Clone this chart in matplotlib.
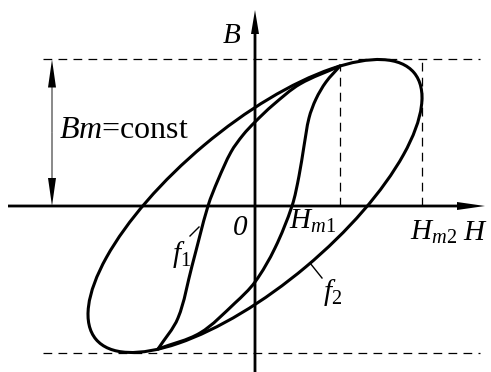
import numpy as np
import matplotlib
matplotlib.use("Agg")
from matplotlib import pyplot as plt
from matplotlib.path import Path
from matplotlib.patches import PathPatch, Ellipse

plt.rcParams['font.family'] = ['Liberation Serif', 'DejaVu Serif']
plt.rcParams['mathtext.fontset'] = 'custom'
plt.rcParams['mathtext.rm'] = 'Liberation Serif'
plt.rcParams['mathtext.it'] = 'Liberation Serif:italic'

# outer loop f2 (pixel-like units, origin at axis cross)
Hm2 = 167.0          # max H of loop f2
Bm = 146.5           # max B (same for both loops)
cos_delta = 0.74     # phase lag of B behind H for loop f2

# inner loop f1, read as points along each branch (H, B)
f1_down = [(85, 140), (71, 124), (61, 107), (54, 88), (49, 60), (44, 30),
           (37, 0), (20, -42), (0, -76), (-20, -97), (-55, -127), (-97, -143)]
f1_up = [(-97, -143), (-77, -112), (-63, -60), (-47, 0), (-37, 26),
         (-24, 54), (-12, 71), (0, 84), (18, 101), (45, 122), (85, 140)]
Hm1 = 85.0

curve_lw = 2.2


def smooth_path(pts):
    # smooth curve through the read points, given to matplotlib as bezier segments
    p = np.asarray(pts, float)
    d = np.hypot(*np.diff(p, axis=0).T)
    m = np.zeros_like(p)
    m[0] = (p[1] - p[0]) / d[0]
    m[-1] = (p[-1] - p[-2]) / d[-1]
    m[1:-1] = (p[2:] - p[:-2]) / (d[1:] + d[:-1])[:, None]
    verts = [p[0]]
    codes = [Path.MOVETO]
    for i in range(len(p) - 1):
        verts += [p[i] + m[i] * d[i] / 3, p[i + 1] - m[i + 1] * d[i] / 3, p[i + 1]]
        codes += [Path.CURVE4] * 3
    return Path(verts, codes)


fig = plt.figure(figsize=(4.91, 3.72), dpi=100)
ax = fig.add_axes([0, 0, 1, 1])
ax.set_xlim(-255, 236)
ax.set_ylim(-166, 206)
ax.axis('off')

# dashed guide lines
dash = dict(color='k', lw=0.9, linestyle=(0, (7, 5)))
ax.plot([-212, 225], [Bm, Bm], **dash)
ax.plot([-212, 225], [-Bm, -Bm], **dash)
ax.plot([Hm1, Hm1], [0, 140], **dash)
ax.plot([Hm2, Hm2], [0, Bm], **dash)

# axes with arrows
ax.arrow(-247, 0, 477, 0, width=2.8, head_width=8, head_length=28,
         length_includes_head=True, color='k', lw=0)
ax.arrow(0, -166, 0, 362, width=2.8, head_width=8, head_length=24,
         length_includes_head=True, color='k', lw=0)

# Bm double arrow
ax.arrow(-203, Bm / 2, 0, Bm / 2, width=0.9, head_width=8, head_length=28,
         length_includes_head=True, color='k', lw=0)
ax.arrow(-203, Bm / 2, 0, -Bm / 2, width=0.9, head_width=8, head_length=28,
         length_includes_head=True, color='k', lw=0)

# outer loop f2 as an ellipse H = Hm2 cos t, B = Bm cos(t - delta)
sin2 = 1 - cos_delta ** 2
M = np.array([[1 / Hm2 ** 2, -cos_delta / (Hm2 * Bm)],
              [-cos_delta / (Hm2 * Bm), 1 / Bm ** 2]]) / sin2
vals, vecs = np.linalg.eigh(M)
major = 1 / np.sqrt(vals[0])
minor = 1 / np.sqrt(vals[1])
angle = np.degrees(np.arctan2(vecs[1, 0], vecs[0, 0]))
ax.add_patch(Ellipse((0, 0), 2 * major, 2 * minor, angle=angle,
                     fill=False, lw=curve_lw, color='k'))

# inner loop f1
ax.add_patch(PathPatch(smooth_path(f1_down), fill=False, lw=curve_lw, color='k',
                       capstyle='round'))
ax.add_patch(PathPatch(smooth_path(f1_up), fill=False, lw=curve_lw, color='k',
                       capstyle='round'))

# leaders
ax.plot([-65, -56], [-30, -21], color='k', lw=1.0)
ax.plot([55, 67], [-57, -72], color='k', lw=1.0)

# labels
fs = 21
ax.text(-23, 163, r'$B$', fontsize=fs, ha='center', va='baseline')
ax.text(-196, 68, r'$Bm$=const', fontsize=23, ha='left', va='baseline')
ax.text(-15, -29, '0', fontsize=fs, style='italic', ha='center', va='baseline')
ax.text(34, -23, r'$H_{m1}$', fontsize=fs, ha='left', va='baseline')
ax.text(155, -34, r'$H_{m2}$', fontsize=fs, ha='left', va='baseline')
ax.text(208, -34, r'$H$', fontsize=fs, ha='left', va='baseline')
ax.text(-83, -56, r'$f_1$', fontsize=fs, ha='left', va='baseline')
ax.text(68, -94, r'$f_2$', fontsize=fs, ha='left', va='baseline')

fig.savefig("out.png", dpi=100)
